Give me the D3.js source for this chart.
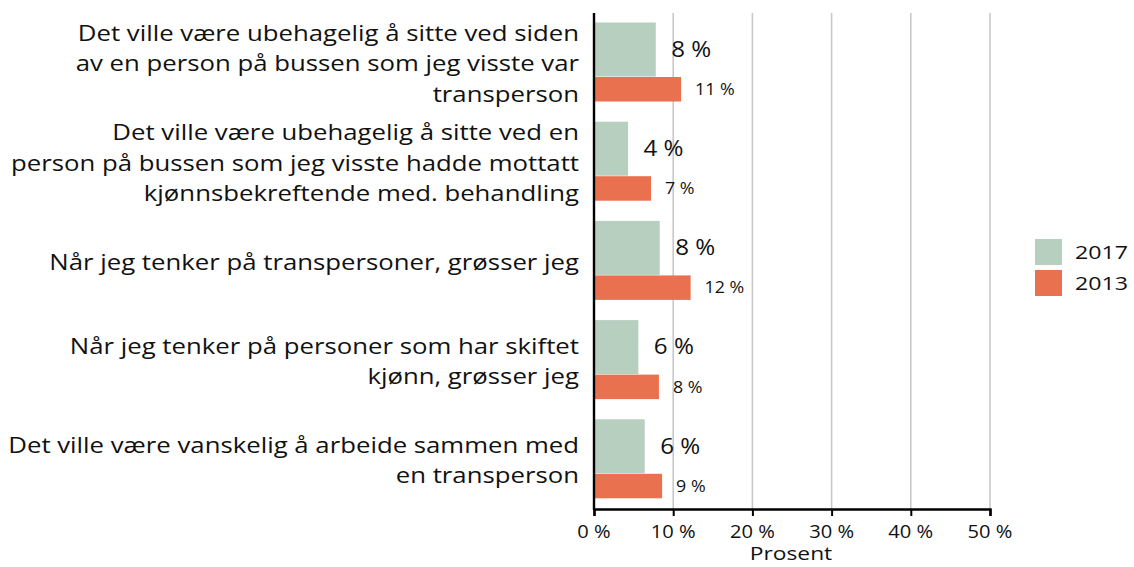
<!DOCTYPE html>
<html><head><meta charset="utf-8">
<script src="https://cdn.jsdelivr.net/npm/d3@7"></script>
<style>body{margin:0;background:#fff;}svg{display:block;font-family:"Open Sans",sans-serif;}</style>
</head><body>
<svg id="c" width="1134" height="567"></svg>
<script>
const categories = [
  ["Det ville være ubehagelig å sitte ved siden","av en person på bussen som jeg visste var","transperson"],
  ["Det ville være ubehagelig å sitte ved en","person på bussen som jeg visste hadde mottatt","kjønnsbekreftende med. behandling"],
  ["Når jeg tenker på transpersoner, grøsser jeg"],
  ["Når jeg tenker på personer som har skiftet","kjønn, grøsser jeg"],
  ["Det ville være vanskelig å arbeide sammen med","en transperson"]
];
const values2017 = [7.8, 4.3, 8.3, 5.6, 6.4];
const values2013 = [11.0, 7.2, 12.2, 8.2, 8.6];
const labels2017 = ["8 %","4 %","8 %","6 %","6 %"];
const labels2013 = ["11 %","7 %","12 %","8 %","9 %"];
const xTicks = [0,10,20,30,40,50];
const series = ["2017","2013"];
const colors = ["#b6cfbf","#ea7150"];

const SX = 1.15; // horizontal stretch of the reference's lettering
const svg = d3.select("#c");
const x = d3.scaleLinear().domain([0,50]).range([594,990]);
const y = d3.scaleBand().domain(d3.range(categories.length)).range([13,509]).paddingInner(0);
const bw = y.bandwidth();

function txt(parent, tx, ty, size, anchor, str, sx){
  return parent.append("text")
    .attr("transform",`translate(${tx},${ty}) scale(${sx||SX},1)`)
    .attr("text-anchor",anchor).attr("font-size",size).attr("fill","#111")
    .attr("dy","0.35em").text(str);
}

// gridlines
svg.append("g").selectAll("line").data(xTicks.slice(1)).join("line")
  .attr("x1",d=>x(d)).attr("x2",d=>x(d)).attr("y1",13).attr("y2",509)
  .attr("stroke","#c8c8c8").attr("stroke-width",1.6);

// bars
const g = svg.append("g");
g.selectAll("rect.g17").data(values2017).join("rect").attr("class","g17")
  .attr("x",x(0)).attr("y",(d,i)=>y(i)+9.5).attr("width",d=>x(d)-x(0)).attr("height",54)
  .attr("fill",colors[0]);
g.selectAll("rect.g13").data(values2013).join("rect").attr("class","g13")
  .attr("x",x(0)).attr("y",(d,i)=>y(i)+64).attr("width",d=>x(d)-x(0)).attr("height",24.5)
  .attr("fill",colors[1]);

// value labels
values2017.forEach((d,i)=>txt(g, x(d)+15.5, y(i)+9.5+27, 21, "start", labels2017[i]));
values2013.forEach((d,i)=>txt(g, x(d)+14, y(i)+64+12.5, 15.5, "start", labels2013[i]));

// x axis
const xAxis = d3.axisBottom(x).tickValues(xTicks).tickFormat("").tickSize(7);
const ax = svg.append("g").attr("transform","translate(0,509)").call(xAxis);
ax.select(".domain").attr("stroke","#000").attr("stroke-width",2.4);
ax.selectAll(".tick line").attr("stroke","#000").attr("stroke-width",2);
xTicks.forEach(t=>txt(svg, x(t), 532, 17.5, "middle", t+" %"));

// y axis line
svg.append("line").attr("x1",x(0)).attr("x2",x(0)).attr("y1",13).attr("y2",510)
  .attr("stroke","#000").attr("stroke-width",2.4);

// category labels
const lh = 30.5;
const cl = svg.append("g");
categories.forEach((lines,i)=>{
  const cy = y(i)+bw/2;
  lines.forEach((ln,j)=>{
    txt(cl, 579, cy+1+(j-(lines.length-1)/2)*lh, 22.4, "end", ln);
  });
});

// axis title
txt(svg, 791, 553.5, 19, "middle", "Prosent", 1.2);

// legend
const lg = svg.append("g");
series.forEach((s,i)=>{
  lg.append("rect").attr("x",1035).attr("y",239+i*31).attr("width",27).attr("height",26).attr("fill",colors[i]);
  txt(lg, 1075, 252+i*31, 19, "start", s, 1.22);
});
</script>
</body></html>
